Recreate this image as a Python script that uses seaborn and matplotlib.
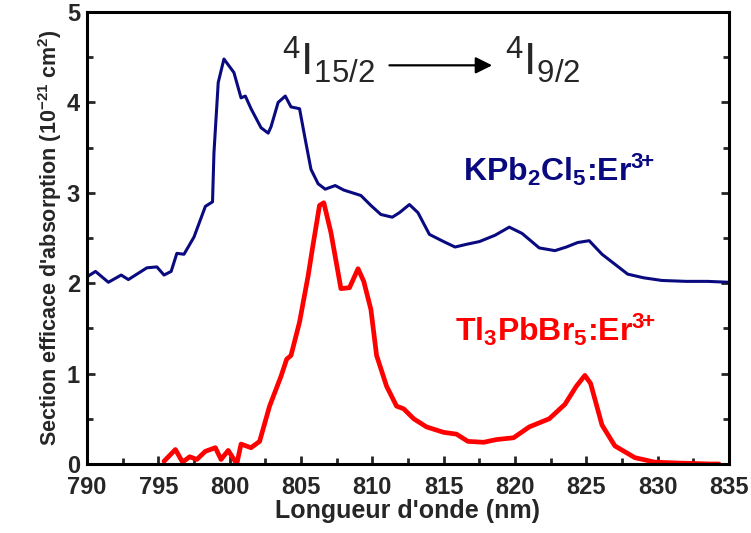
"""
Absorption cross-section of Er3+ in KPb2Cl5 and Tl3PbBr5 (4I15/2 -> 4I9/2).
"""

import numpy as np
import pandas as pd
import matplotlib
matplotlib.use("Agg")
import matplotlib.pyplot as plt
from matplotlib.ticker import MultipleLocator
import seaborn as sns

# KPb2Cl5:Er3+ (blue curve)
kpb_wl = [790.0, 790.6, 791.5, 792.4, 792.9, 793.5, 794.2, 794.9, 795.4, 795.9,
          796.3, 796.8, 797.5, 798.3, 798.8, 798.9, 799.2, 799.6, 800.3, 800.8,
          801.1, 801.5, 802.2, 802.7, 802.9, 803.4, 803.9, 804.3, 804.9, 805.3,
          805.7, 806.2, 806.7, 807.4, 808.0, 809.2, 809.9, 810.6, 811.4, 811.9,
          812.6, 813.2, 814.0, 815.0, 815.8, 816.6, 817.5, 818.6, 819.6, 820.5,
          821.7, 822.8, 823.6, 824.4, 825.2, 826.1, 827.0, 827.9, 829.0, 830.3,
          832.0, 833.5, 835.0]
kpb_sigma = [2.07, 2.13, 2.01, 2.09, 2.04, 2.10, 2.17, 2.18, 2.09, 2.13,
             2.33, 2.32, 2.51, 2.85, 2.90, 3.44, 4.22, 4.48, 4.33, 4.05,
             4.07, 3.93, 3.72, 3.66, 3.73, 4.00, 4.07, 3.95, 3.93, 3.59,
             3.26, 3.10, 3.04, 3.08, 3.03, 2.97, 2.86, 2.76, 2.73, 2.78,
             2.87, 2.78, 2.54, 2.46, 2.40, 2.43, 2.46, 2.53, 2.62, 2.55,
             2.39, 2.36, 2.40, 2.45, 2.47, 2.32, 2.21, 2.10, 2.06, 2.03,
             2.02, 2.02, 2.01]

# Tl3PbBr5:Er3+ (red curve)
tl_wl = [795.4, 796.2, 796.7, 797.2, 797.7, 798.3, 799.0, 799.4, 799.9, 800.5,
         800.8, 801.5, 802.1, 802.8, 803.6, 804.0, 804.3, 804.9, 805.5, 805.8,
         806.3, 806.6, 807.1, 807.8, 808.4, 809.0, 809.4, 809.9, 810.3, 811.0,
         811.7, 812.2, 812.9, 813.8, 815.0, 815.9, 816.7, 817.8, 818.7, 819.9,
         821.0, 822.4, 823.5, 824.3, 824.9, 825.3, 826.1, 827.0, 828.4, 829.8,
         831.5, 833.7, 834.3]
tl_sigma = [0.03, 0.16, 0.02, 0.08, 0.05, 0.14, 0.18, 0.05, 0.15, 0.00,
            0.22, 0.18, 0.25, 0.64, 0.97, 1.16, 1.20, 1.57, 2.08, 2.38,
            2.86, 2.89, 2.56, 1.94, 1.95, 2.16, 2.02, 1.71, 1.20, 0.86,
            0.64, 0.61, 0.50, 0.41, 0.35, 0.33, 0.25, 0.24, 0.27, 0.29,
            0.41, 0.50, 0.66, 0.86, 0.98, 0.89, 0.43, 0.20, 0.07, 0.02,
            0.01, 0.00, 0.00]

df = pd.concat([
    pd.DataFrame({"wl": kpb_wl, "sigma": kpb_sigma, "sample": "KPb2Cl5"}),
    pd.DataFrame({"wl": tl_wl, "sigma": tl_sigma, "sample": "Tl3PbBr5"}),
])

sns.set_style("ticks")
plt.rcParams["font.family"] = ["Liberation Sans", "DejaVu Sans"]
plt.rcParams["mathtext.fontset"] = "custom"
plt.rcParams["mathtext.rm"] = "Liberation Sans"
plt.rcParams["mathtext.it"] = "Liberation Sans"
plt.rcParams["mathtext.bf"] = "Liberation Sans:bold"

NAVY = "#0a0a80"
RED = "#ff0000"

fig = plt.figure(figsize=(7.51, 5.33), dpi=100)
ax = fig.add_axes([0.1158, 0.1295, 0.8549, 0.848])

sns.lineplot(data=df[df["sample"] == "KPb2Cl5"], x="wl", y="sigma",
             color=NAVY, linewidth=2.2, ax=ax)
sns.lineplot(data=df[df["sample"] == "Tl3PbBr5"], x="wl", y="sigma",
             color=RED, linewidth=3.4, ax=ax)

ax.set_xlim(790, 835)
ax.set_ylim(0, 5)
ax.xaxis.set_major_locator(MultipleLocator(5))
ax.xaxis.set_minor_locator(MultipleLocator(2.5))
ax.yaxis.set_major_locator(MultipleLocator(1))
ax.yaxis.set_minor_locator(MultipleLocator(0.5))
ax.tick_params(which="both", direction="in", right=True, top=False, width=2,
               labelsize=17)
ax.tick_params(which="major", length=6)
ax.tick_params(which="minor", length=4)
ax.tick_params(axis="x", pad=9)
ax.tick_params(axis="y", pad=5)
for lbl in ax.get_xticklabels() + ax.get_yticklabels():
    lbl.set_fontweight("bold")
for sp in ax.spines.values():
    sp.set_linewidth(2.2)
    sp.set_color("black")

ax.set_xlabel("Longueur d'onde (nm)", fontsize=18, fontweight="bold", labelpad=0)
ax.set_ylabel("Section efficace d'absorption (10$^{\\mathbf{-21}}$ cm$^{\\mathbf{2}}$)",
              fontsize=15.5, fontweight="bold", labelpad=2)

# transition label
ax.text(803.7, 4.30, "$^{4}$I$_{15/2}$", fontsize=32, ha="left", va="baseline")
ax.text(819.3, 4.30, "$^{4}$I$_{9/2}$", fontsize=32, ha="left", va="baseline")
ax.annotate("", xy=(818.4, 4.41), xytext=(811.2, 4.41),
            arrowprops=dict(arrowstyle="-|>", color="black", lw=1.6,
                            mutation_scale=25, shrinkA=0, shrinkB=0))

ax.text(816.35, 3.25,
        "KPb$_{\\mathbf{2}}$Cl$_{\\mathbf{5}}$:Er$^{\\mathbf{3}\\!\\mathbf{+}}$",
        color=NAVY, fontsize=23, fontweight="bold", ha="left", va="center")
ax.text(815.8, 1.48,
        "Tl$_{\\mathbf{3}}$PbBr$_{\\mathbf{5}}$:Er$^{\\mathbf{3}\\!\\mathbf{+}}$",
        color=RED, fontsize=23, fontweight="bold", ha="left", va="center")

fig.savefig("out.png", dpi=100)
